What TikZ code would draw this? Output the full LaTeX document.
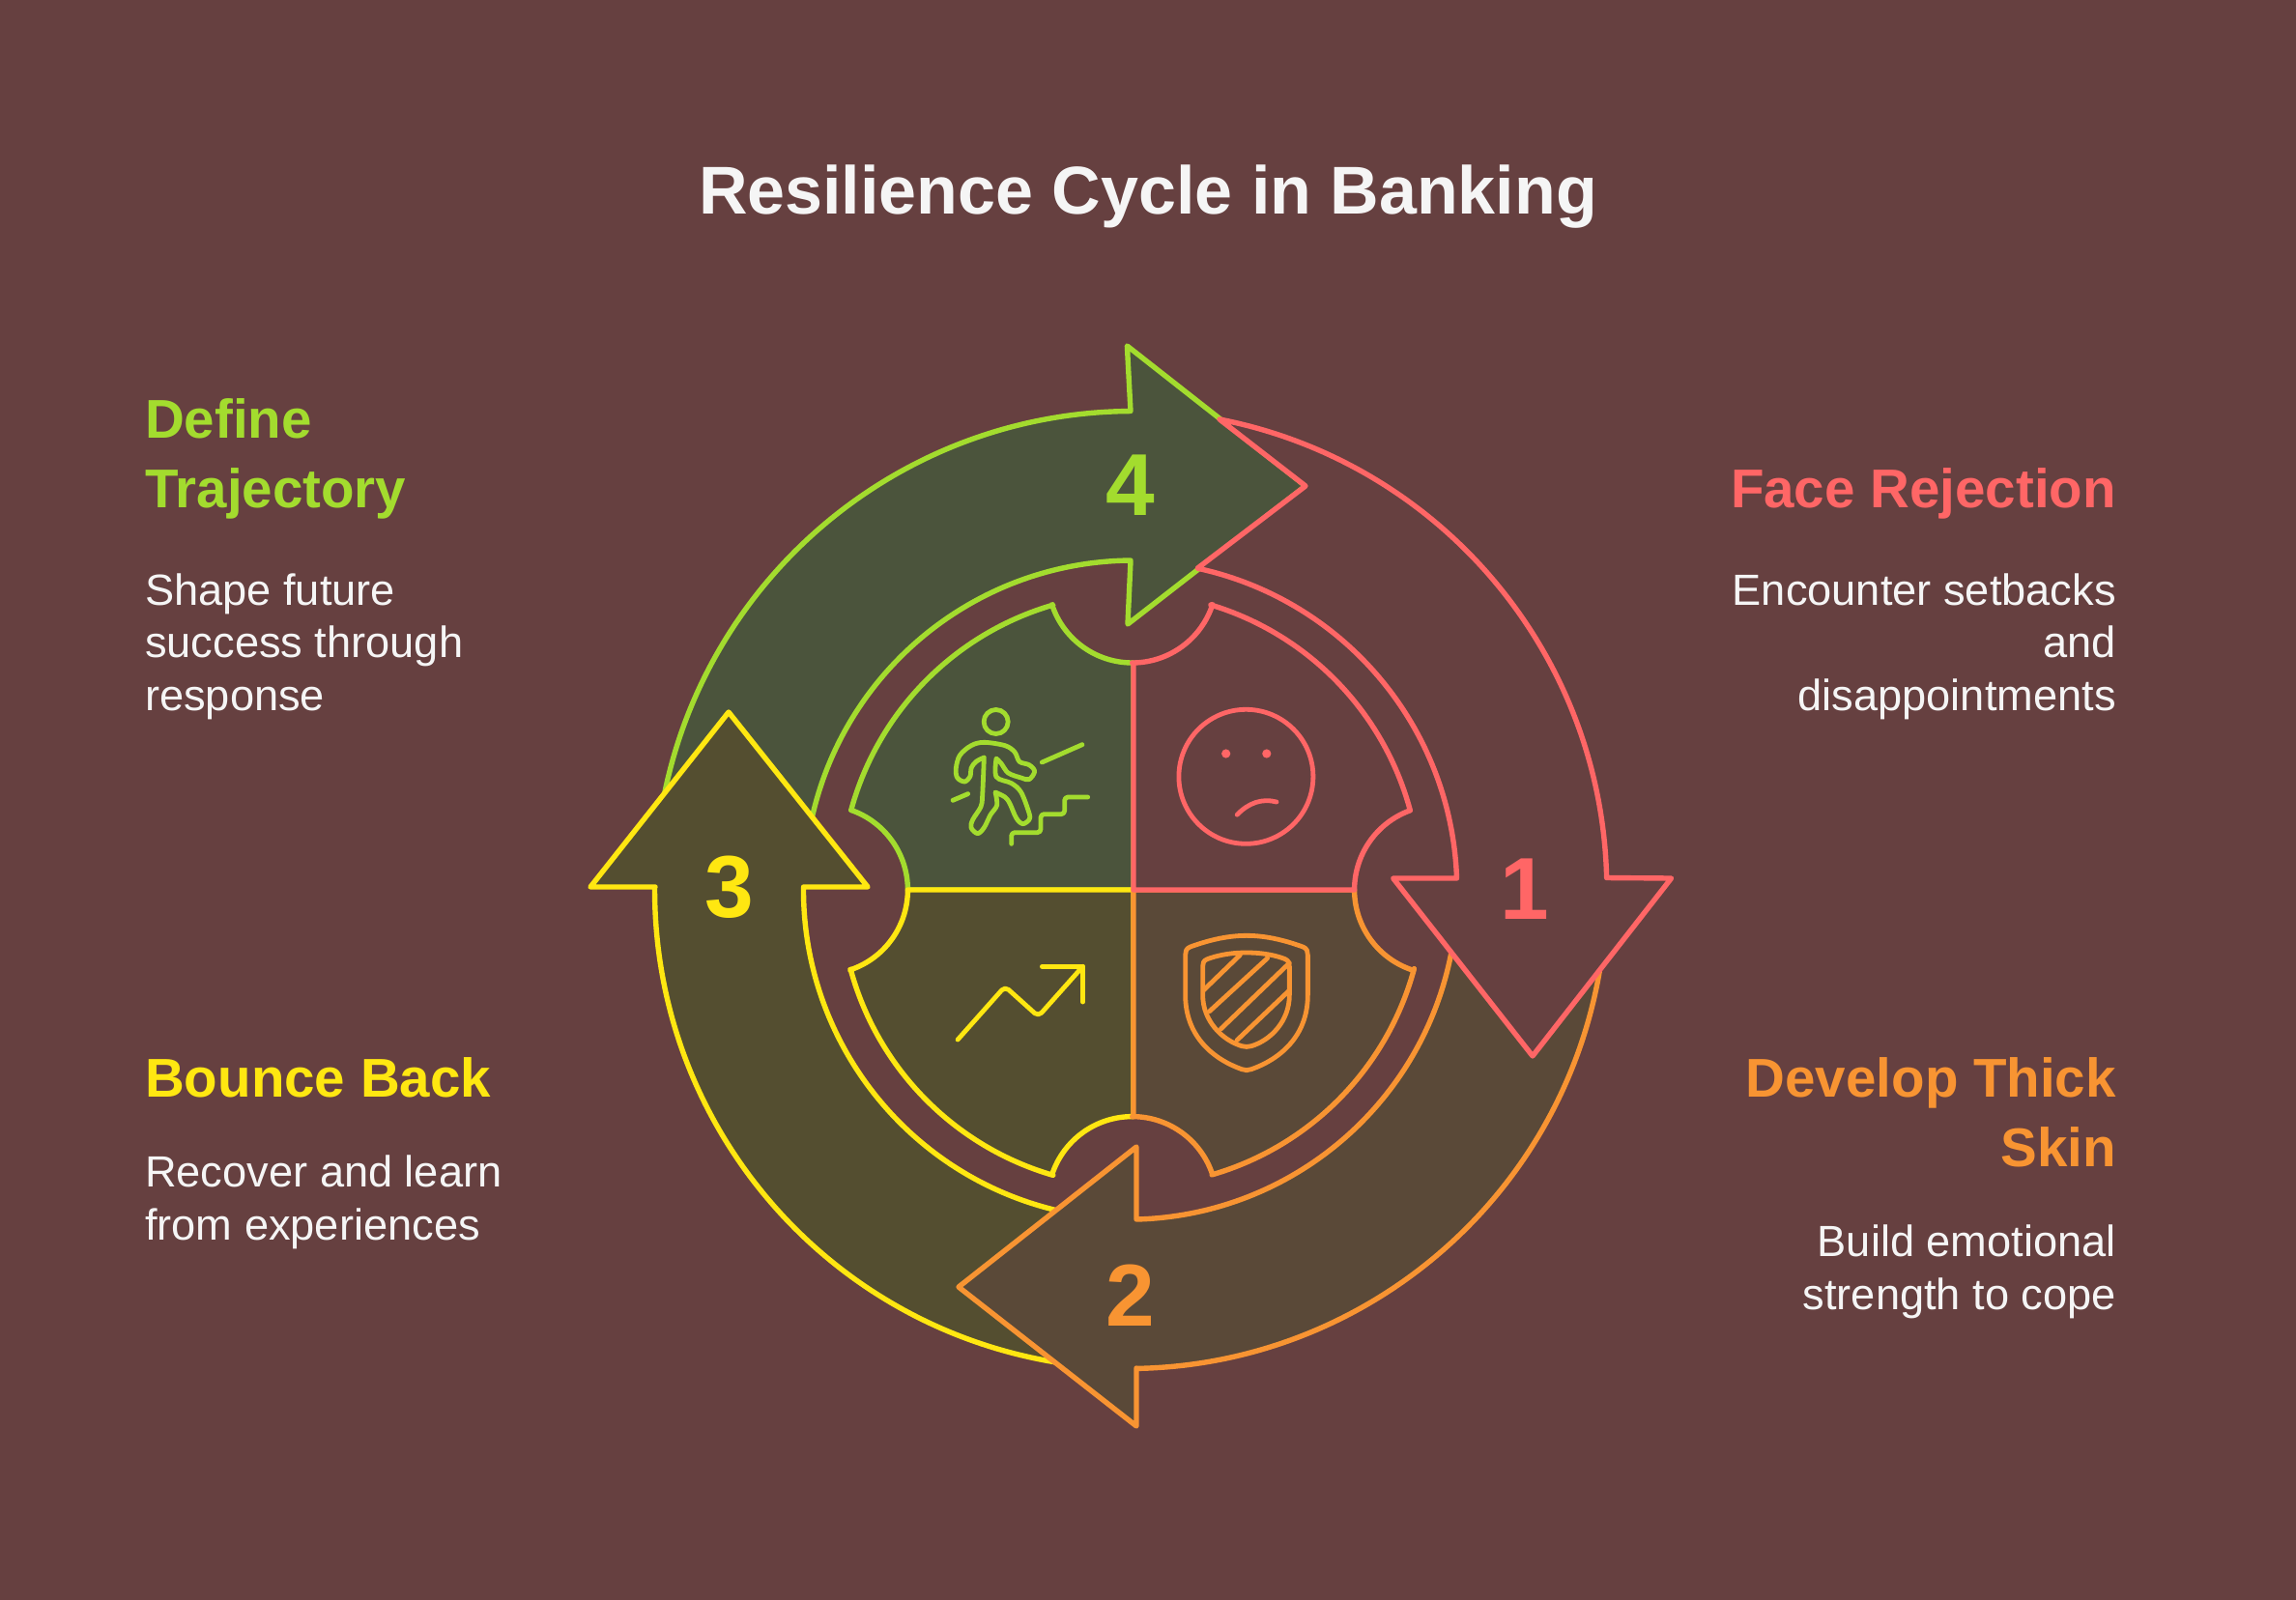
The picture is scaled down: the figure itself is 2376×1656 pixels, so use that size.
\documentclass[tikz,border=0pt]{standalone}
\usepackage{fontspec}
\usetikzlibrary{calc}
\setmainfont{Liberation Sans}
\definecolor{bgc}{HTML}{664040}
\definecolor{pinkc}{HTML}{FF6666}
\definecolor{orangec}{HTML}{F89432}
\definecolor{yellowc}{HTML}{FFE711}
\definecolor{greenc}{HTML}{A3DC2E}
\definecolor{pinkf}{HTML}{664040}
\definecolor{orangef}{HTML}{5A4938}
\definecolor{yellowf}{HTML}{544E30}
\definecolor{greenf}{HTML}{4B543C}
\definecolor{titlec}{HTML}{F5F5F5}
\tikzset{
  shapeline/.style={line width=5.4pt,line join=round,line cap=round},
  iconline/.style={line width=4.8pt,line join=round,line cap=round},
  titletext/.style={inner sep=0pt,text=titlec,font=\fontsize{70}{80}\selectfont\bfseries},
  headtext/.style={inner sep=0pt,font=\fontsize{56.5}{72}\selectfont\bfseries},
  bodytext/.style={inner sep=0pt,text=titlec,font=\fontsize{45.2}{54.5}\selectfont},
  numtext/.style={inner sep=0pt,font=\fontsize{91}{91}\selectfont\bfseries},
}
\begin{document}
\begin{tikzpicture}[x=1pt,y=-1pt]
\useasboundingbox (0,0) rectangle (2376,1656);
\fill[bgc] (0,0) rectangle (2376,1656);
% big arrows
\coordinate (cl) at (1173,921);
\coordinate (cr) at (1167,921);
\filldraw[shapeline,draw=greenc,fill=greenf]
  ($(cl)+(191.74:495.5)$) arc[start angle=191.74,end angle=269.65,radius=495.5]
  -- (1166.4,358) -- (1351,503) -- (1167,646) -- ($(cl)+(269.5:341)$)
  arc[start angle=269.5,end angle=192.9,radius=341] -- cycle;
\filldraw[shapeline,draw=yellowc,fill=yellowf]
  (678,918) -- (611,918) -- (754,737) -- (898,918) -- (831.5,918)
  arc[start angle=180.5,end angle=103.8,radius=341]
  -- ($(cl)+(99.4:495.5)$) arc[start angle=99.4,end angle=180.35,radius=495.5] -- cycle;
\filldraw[shapeline,draw=orangec,fill=orangef]
  (1176,1416) -- (1176,1476) -- (992,1332) -- (1176,1187) -- (1176,1262)
  arc[start angle=88.5,end angle=10.98,radius=341]
  -- ($(cr)+(9.77:495.5)$) arc[start angle=9.77,end angle=88.96,radius=495.5] -- cycle;
\filldraw[shapeline,draw=pinkc,fill=pinkf]
  (1262,434) arc[start angle=281.04,end angle=358.61,radius=495.7]
  -- (1729.5,909) -- (1586,1093) -- (1441.7,909) -- (1507.5,909)
  arc[start angle=357.98,end angle=282.2,radius=340.5]
  -- (1351,503) -- cycle;
% sectors
\coordinate (ntop) at (1171.7,598.6);
\coordinate (nbot) at (1171.7,1243);
\coordinate (nlef) at (852,921);
\coordinate (nrig) at (1489,921);
\filldraw[shapeline,draw=greenc,fill=greenf]
  (1173,921) -- (1173,686) -- ($(ntop)+(90:87.4)$) arc[start angle=90,end angle=162,radius=87.4]
  -- ($(1174.9,919)+(253.8:305)$) arc[start angle=253.8,end angle=195.5,radius=305]
  -- ($(nlef)+(-70.9:87.4)$) arc[start angle=-70.9,end angle=0,radius=87.4] -- cycle;
\filldraw[shapeline,draw=yellowc,fill=yellowf]
  (1173,921) -- ($(nlef)+(0:87.4)$) arc[start angle=0,end angle=71.6,radius=87.4]
  -- ($(1175,923)+(164.8:305.5)$) arc[start angle=164.8,end angle=106.2,radius=305.5]
  -- ($(nbot)+(198.2:87.4)$) arc[start angle=198.2,end angle=270,radius=87.4] -- (1173,1155.6) -- cycle;
\filldraw[shapeline,draw=orangec,fill=orangef]
  (1173,921) -- (1173,1155.6) -- ($(nbot)+(270:87.4)$) arc[start angle=270,end angle=341.8,radius=87.4]
  -- ($(1169,923)+(73.8:305)$) arc[start angle=73.8,end angle=15.15,radius=305]
  -- ($(nrig)+(107.7:87.4)$) arc[start angle=107.7,end angle=180,radius=87.4] -- cycle;
\filldraw[shapeline,draw=pinkc,fill=pinkf]
  (1173,921) -- (1173,686) -- ($(ntop)+(90:87.4)$) arc[start angle=90,end angle=18,radius=87.4]
  -- ($(1164.8,918)+(286.8:305)$) arc[start angle=286.8,end angle=344.7,radius=305]
  -- ($(nrig)+(250.2:87.4)$) arc[start angle=250.2,end angle=180,radius=87.4] -- cycle;
% face icon
\draw[iconline,draw=pinkc] (1289.4,803.8) circle[radius=69.5];
\fill[pinkc] (1268.7,780) circle[radius=4.6] (1310.8,780) circle[radius=4.6];
\draw[iconline,draw=pinkc] (1280.2,843.2) .. controls (1292,831) and (1306,826) .. (1321,830);
% walker icon
\begin{scope}[shift={(950,710)},scale=1/3,draw=greenc]
\draw[iconline] (242,111) circle[radius=37.5];
\draw[iconline]
  plot[smooth,tension=0.55] coordinates {(205,222) (180,235) (165,255) (162,280) (145,297) (122,285) (118,255) (130,215) (165,185) (205,175) (270,185) (300,205) (315,235) (345,245) (362,265) (345,290) (320,285) (280,270) (258,240) (243,225)}
  -- plot[smooth,tension=0.55] coordinates {(243,225) (243,282) (290,302) (320,330) (345,395) (345,415) (325,428) (305,410) (285,365) (270,345) (240,330)}
  -- plot[smooth,tension=0.55] coordinates {(240,330) (245,370) (225,400) (205,440) (185,458) (165,440) (170,415) (195,375) (200,340) (205,222)};
\draw[iconline] (385,237) -- (510,182);
\draw[iconline] (108,355) -- (155,335);
\draw[iconline,rounded corners=3.5pt] (290,490) -- (290,455) -- (381,455) -- (381,398) -- (455,398) -- (455,345) -- (527,345);
\end{scope}
% trend icon
\draw[iconline,draw=yellowc,rounded corners=5pt] (991.1,1076) -- (1040,1021) -- (1074.5,1052) -- (1120.5,1000.3);
\draw[iconline,draw=yellowc] (1078.4,1000.3) -- (1120.5,1000.3) -- (1120.5,1037);
% shield icon
\begin{scope}[shift={(1200,950)},scale=1/3,draw=orangec]
\draw[iconline] (270,55) .. controls (205,55) and (145,72) .. (95,90) .. controls (82,95) and (80,105) .. (80,115) -- (80,240) .. controls (80,370) and (170,440) .. (255,470) .. controls (265,474) and (275,474) .. (285,470) .. controls (370,440) and (460,370) .. (460,240) -- (460,115) .. controls (460,105) and (458,95) .. (445,90) .. controls (395,72) and (335,55) .. (270,55) -- cycle;
\draw[iconline] (270,108) .. controls (215,108) and (175,118) .. (148,128) .. controls (136,133) and (134,140) .. (134,150) -- (134,240) .. controls (134,320) and (195,380) .. (255,398) .. controls (265,401) and (275,401) .. (285,398) .. controls (345,380) and (403,320) .. (403,240) -- (403,150) .. controls (403,140) and (400,133) .. (390,128) .. controls (365,118) and (325,108) .. (270,108) -- cycle;
\draw[iconline] (250,115) -- (136,225);
\draw[iconline] (335,125) -- (155,290);
\draw[iconline] (403,140) -- (190,345);
\draw[iconline] (403,225) -- (240,380);
\end{scope}
% texts
\node[titletext,anchor=base] (title) at (1188,222) {Resilience Cycle in Banking};
\node[numtext,text=pinkc,anchor=base] (n1) at (1578,951) {1};
\node[numtext,text=orangec,anchor=base] (n2) at (1170,1372) {2};
\node[numtext,text=yellowc,anchor=base] (n3) at (755,949) {3};
\node[numtext,text=greenc,anchor=base] (n4) at (1170,533) {4};
\node[headtext,text=greenc,anchor=base west,align=left] (h4) at (150,525) {Define\\Trajectory};
\node[bodytext,anchor=base west,align=left] (b4) at (150,735) {Shape future\\success through\\response};
\node[headtext,text=yellowc,anchor=base west,align=left] (h3) at (150,1135) {Bounce Back};
\node[bodytext,anchor=base west,align=left] (b3) at (150,1283) {Recover and learn\\from experiences};
\node[headtext,text=pinkc,anchor=base east,align=right] (h1) at (2190,525) {Face Rejection};
\node[bodytext,anchor=base east,align=right] (b1) at (2190,735) {Encounter setbacks\\and\\disappointments};
\node[headtext,text=orangec,anchor=base east,align=right] (h2) at (2190,1207) {Develop Thick\\Skin};
\node[bodytext,anchor=base east,align=right] (b2) at (2190,1355) {Build emotional\\strength to cope};
\end{tikzpicture}
\end{document}
